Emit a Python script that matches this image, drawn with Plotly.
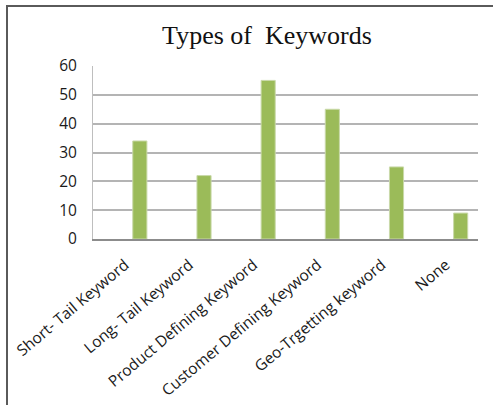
import plotly.graph_objects as go

# Survey counts per keyword type
categories = [
    "Short- Tail Keyword",
    "Long- Tail Keyword",
    "Product Defining Keyword",
    "Customer Defining Keyword",
    "Geo-Trgetting keyword",
    "None",
]
counts = [34, 22, 55, 45, 25, 9]
y_ticks = [0, 10, 20, 30, 40, 50, 60]

W, H = 493, 405
L, R, T, B = 93, 15, 66, 166

fig = go.Figure()
fig.add_trace(
    go.Bar(
        x=categories,
        y=counts,
        width=0.22,
        offset=0.12,
        marker=dict(color="#9BBB59", line=dict(color="#C9D9A9", width=1)),
        hoverinfo="x+y",
    )
)

# plot-area fraction helpers for the frame lines around the chart
pw, ph = W - L - R, H - T - B
def px_x(v):
    return (v - L) / pw
def px_y(v):
    return (H - B - v) / ph

frame = dict(color="#5A5A5A", width=2)
shapes = [
    dict(type="line", xref="paper", yref="paper",
         x0=px_x(7), x1=px_x(7), y0=px_y(6), y1=px_y(410), line=frame),
    dict(type="line", xref="paper", yref="paper",
         x0=px_x(6), x1=px_x(500), y0=px_y(6), y1=px_y(6), line=frame),
]

fig.update_layout(
    width=W,
    height=H,
    margin=dict(l=L, r=R, t=T, b=B, pad=0, autoexpand=False),
    paper_bgcolor="white",
    plot_bgcolor="white",
    showlegend=False,
    shapes=shapes,
    title=dict(
        text="Types of\u00a0 Keywords",
        font=dict(family="Liberation Serif", size=26, color="#111111"),
        x=267 / W,
        xanchor="center",
        xref="container",
        y=1 - 35 / H,
        yanchor="middle",
        yref="container",
    ),
    xaxis=dict(
        type="category",
        range=[-0.5, len(categories) - 0.5],
        automargin=False,
        showgrid=False,
        showline=True,
        linecolor="#8C8C8C",
        linewidth=1.5,
        ticks="",
        tickangle=-40,
        ticklabelstandoff=9,
        tickfont=dict(family="Open Sans", size=15.5, color="#1A1A1A"),
    ),
    yaxis=dict(
        range=[0, 60],
        tickvals=y_ticks,
        automargin=False,
        showgrid=True,
        gridcolor="#B4B4B4",
        gridwidth=1.5,
        showline=True,
        linecolor="#BEBEBE",
        linewidth=1,
        zeroline=False,
        ticks="",
        ticklabelstandoff=12,
        tickfont=dict(family="Open Sans", size=15.5, color="#1A1A1A"),
    ),
)

fig.write_html("out.html")
